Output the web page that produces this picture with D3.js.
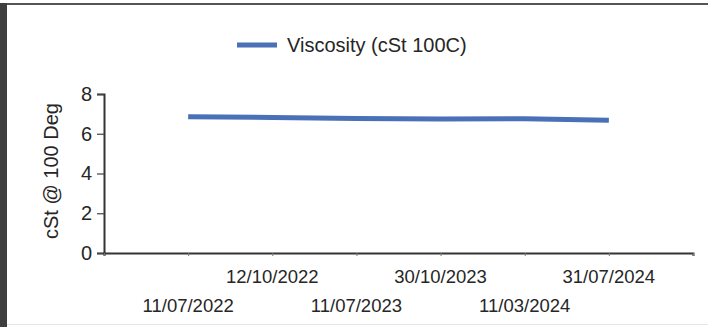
<!DOCTYPE html>
<html>
<head>
<meta charset="utf-8">
<script src="https://cdn.jsdelivr.net/npm/d3@7"></script>
<style>
  html, body { margin: 0; padding: 0; background: #fff; }
  svg { display: block; }
  text { font-family: "Liberation Sans", Arial, sans-serif; fill: #262626; }
</style>
</head>
<body>
<svg id="chart" width="708" height="327"></svg>
<script>
// ---- data ----
const categories = ["11/07/2022", "12/10/2022", "11/07/2023", "30/10/2023", "11/03/2024", "31/07/2024"];
const viscosity = [6.86, 6.82, 6.77, 6.74, 6.76, 6.68];
const yTicks = [0, 2, 4, 6, 8];
const seriesName = "Viscosity (cSt 100C)";
const yTitle = "cSt @ 100 Deg";

const svg = d3.select("#chart");
const W = 708, H = 327;

// frame
svg.append("rect").attr("x", 0).attr("y", 0).attr("width", W).attr("height", H).attr("fill", "#fff");
svg.append("line").attr("x1", 4).attr("x2", W).attr("y1", 4).attr("y2", 4)
  .attr("stroke", "#555").attr("stroke-width", 2);
svg.append("rect").attr("x", 0).attr("y", 3).attr("width", 7).attr("height", H - 3).attr("fill", "#3f3f3f");
svg.append("line").attr("x1", 7).attr("x2", W).attr("y1", 324.5).attr("y2", 324.5)
  .attr("stroke", "#e6e6e6").attr("stroke-width", 1);

// scales
const x0 = 104, x1 = 693, yTop = 94, yBot = 253;
const x = d3.scaleLinear().domain([-1, categories.length]).range([x0, x1]);
const y = d3.scaleLinear().domain([0, 8]).range([yBot, yTop]);

// y axis
const yAxis = svg.append("g").attr("transform", `translate(${x0},0)`)
  .call(d3.axisLeft(y).tickValues(yTicks).tickSize(7).tickPadding(5).tickFormat(d3.format("d")));
yAxis.select(".domain").attr("stroke", "#333").attr("stroke-width", 2);
yAxis.selectAll(".tick line").attr("stroke", "#444").attr("stroke-width", 1.2);
yAxis.selectAll(".tick text").attr("font-size", 20).attr("fill", "#262626")
  .attr("font-family", "Liberation Sans, Arial, sans-serif");

// x axis
const xTickVals = d3.range(-1, categories.length + 1);
const xAxis = svg.append("g").attr("transform", `translate(0,${yBot})`)
  .call(d3.axisBottom(x).tickValues(xTickVals).tickSize(3).tickFormat(""));
xAxis.select(".domain").attr("stroke", "#333").attr("stroke-width", 2);
xAxis.selectAll(".tick line").attr("stroke", "#777").attr("stroke-width", 1);

// staggered category labels
svg.append("g").selectAll("text").data(categories).join("text")
  .attr("x", (d, i) => x(i))
  .attr("y", (d, i) => i % 2 === 1 ? 283 : 312)
  .attr("text-anchor", "middle")
  .attr("font-size", 18.5)
  .text(d => d);

// y title
svg.append("text")
  .attr("transform", `translate(58,171) rotate(-90)`)
  .attr("text-anchor", "middle")
  .attr("font-size", 20)
  .text(yTitle);

// line
const line = d3.line().x((d, i) => x(i)).y(d => y(d));
svg.append("path").datum(viscosity)
  .attr("d", line)
  .attr("fill", "none")
  .attr("stroke", "#4a70b8")
  .attr("stroke-width", 5)
  .attr("stroke-linecap", "butt");

// legend
const lg = svg.append("g");
lg.append("line").attr("x1", 237).attr("x2", 277).attr("y1", 45).attr("y2", 45)
  .attr("stroke", "#4a70b8").attr("stroke-width", 5);
lg.append("text").attr("x", 287).attr("y", 52).attr("font-size", 20).text(seriesName);
</script>
</body>
</html>
